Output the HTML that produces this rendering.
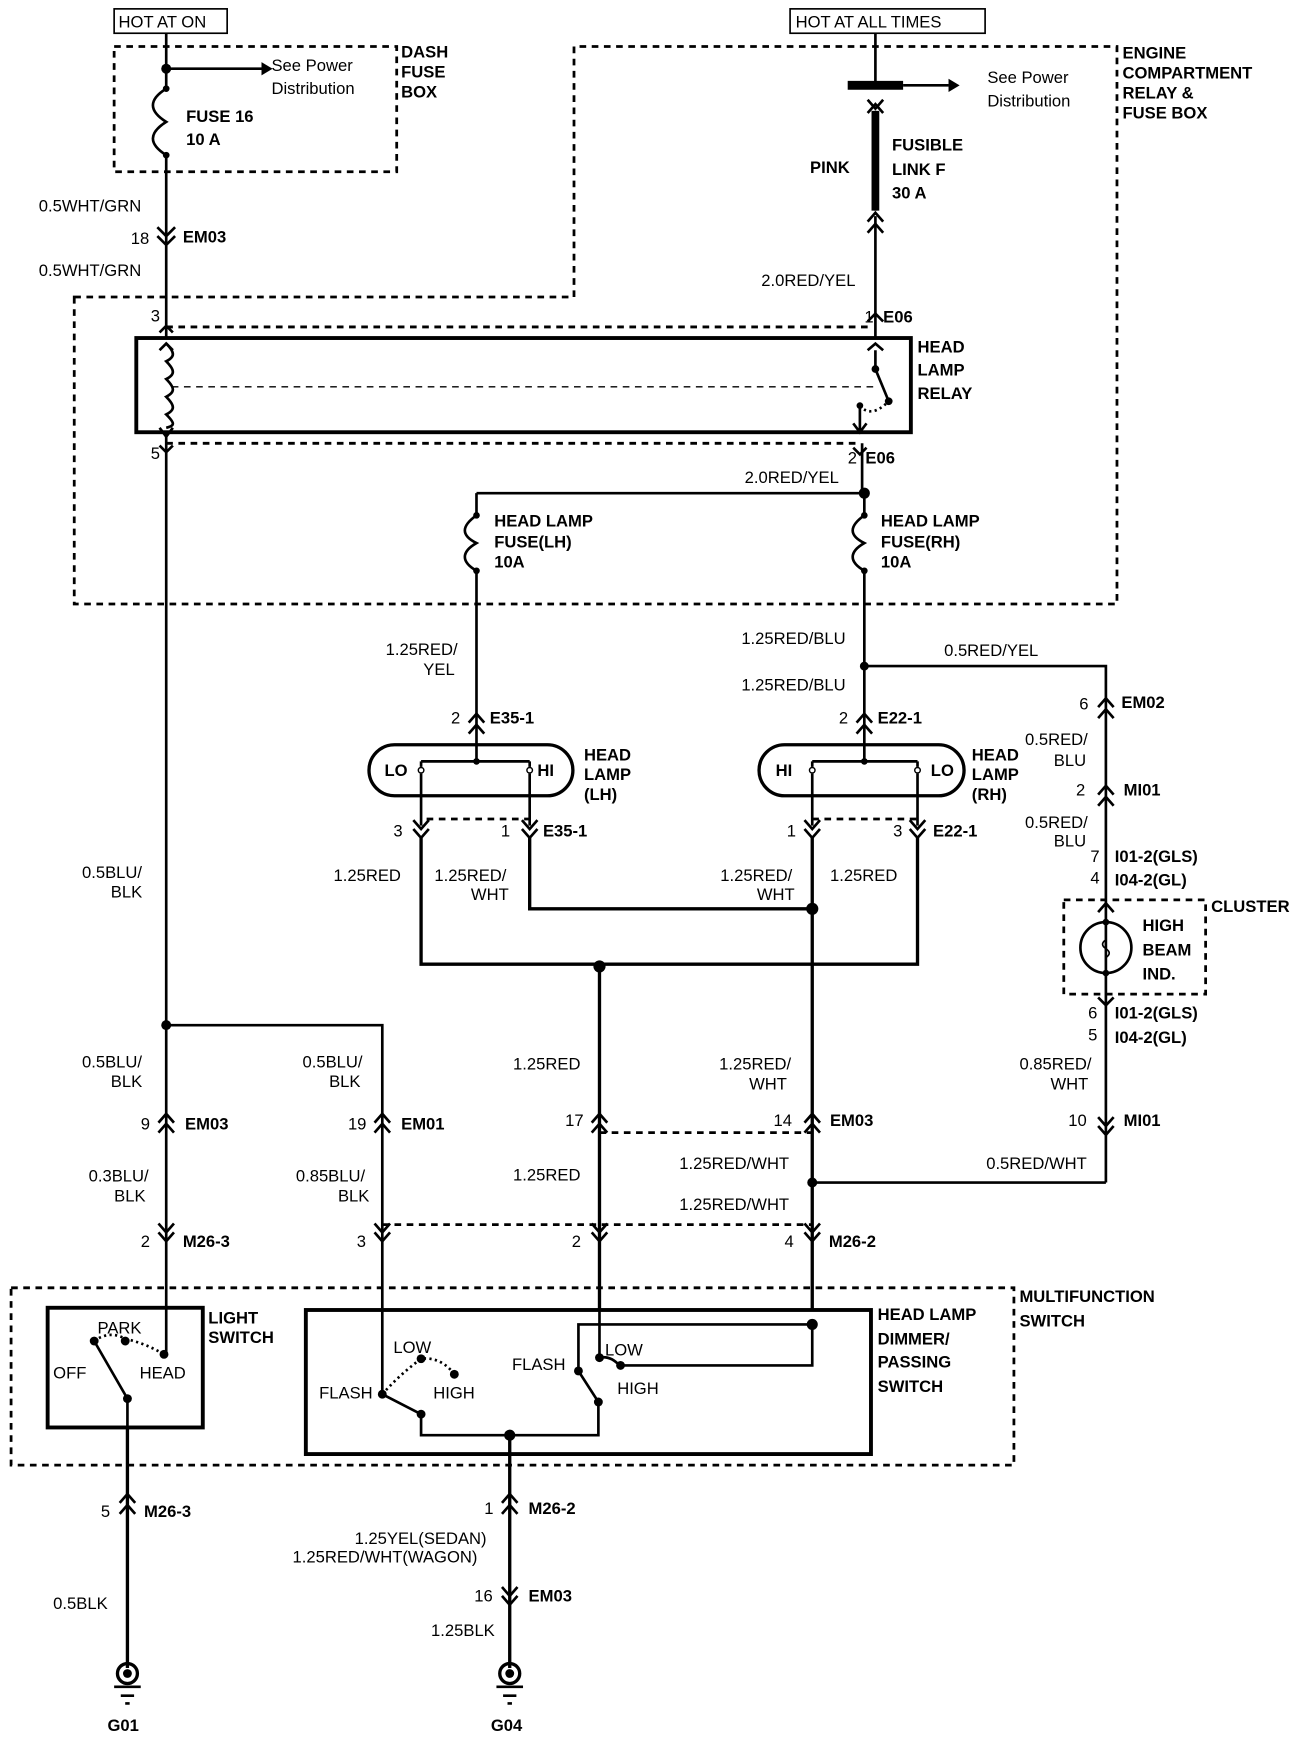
<!DOCTYPE html>
<html><head><meta charset="utf-8"><style>
html,body{margin:0;padding:0;background:#fff;}
svg{display:block;}
text{font-family:"Liberation Sans",sans-serif;font-size:15px;fill:#000;}
.b{font-weight:bold;}
</style></head><body>
<svg width="1312" height="1740" viewBox="0 0 1184 1570" preserveAspectRatio="none" xmlns="http://www.w3.org/2000/svg">
<g fill="none" stroke="#000" stroke-width="2.4">
<!-- header boxes -->
<rect x="103" y="8" width="102" height="22" stroke-width="1.5"/>
<rect x="713" y="8" width="176" height="22" stroke-width="1.5"/>
<!-- dashed boxes -->
<g stroke-dasharray="6,5" stroke-width="2.5">
<path d="M103 42 H358 V155 H103 Z"/>
<path d="M67 268 H518 V42 H1008 V545 H67 Z"/>
<path d="M150 295 H785 M150 400 H775"/>
<path d="M385 739 H478 M733 739 H828"/>
<path d="M541 1022 H733 M345 1105 H733"/>
<path d="M960 812 H1088 V897 H960 Z"/>
<path d="M10 1162 H915 V1322 H10 Z"/>
<path d="M155 349 H790" stroke-width="1.2"/>
</g>
<!-- left column -->
<path d="M150 30 V80 M150 140 V305 M150 390 V1182"/>
<path d="M150 62 H236" />
<path d="M150 80 c-16 10 -16 20 0 30 c-16 10 -16 20 0 30"/>
<path d="M142 205 L150 213 L158 205 M142 213 L150 221 L158 213"/>
<!-- relay -->
<rect x="123" y="305" width="699" height="85" stroke-width="3.5"/>
<path d="M150 310 c8 8 8 12 0 16 c8 8 8 12 0 16 c8 8 8 12 0 16 c8 8 8 12 0 16 c8 8 8 10 0 12"/>
<path d="M144 300 L150 294 L156 300 M144 386 L150 394 L156 386 M144 402 L150 408 L156 402 M144 316 L150 310 L156 316"/>
<!-- right supply -->
<path d="M790 30 V80 M790 100 V190 M790 195 V305"/>
<path d="M765 77 H815" stroke-width="8"/>
<path d="M815 77 H856"/>
<path d="M790 100 V190" stroke-width="7"/>
<path d="M783 90 L790 98 L797 90 M783 102 L790 94 L797 102 M783 200 L790 192 L797 200 M783 210 L790 202 L797 210 M783 290 L790 283 L797 290 M783 316 L790 310 L797 316"/>
<path d="M790 316 V333 L802 362"/>
<path d="M776 366 V390 M770 382 L776 390 L782 382 M770 404 L776 410 L782 404"/>
<path d="M776 366 q10 12 26 -4" stroke-dasharray="2,3"/>
<path d="M778 400 V445 M430 445 H780 M430 445 V465 M780 445 V465"/>
<path d="M430 465 c-14 10 -14 18 0 25 c-14 8 -14 17 0 25 V685"/>
<path d="M780 465 c-14 10 -14 18 0 25 c-14 8 -14 17 0 25 V685"/>
<path d="M780 601 H998 V1067 M733 1067 H998"/>
<path d="M423 652 L430 644 L437 652 M423 662 L430 654 L437 662 M773 652 L780 644 L787 652 M773 662 L780 654 L787 662"/>
<path d="M991 638 L998 630 L1005 638 M991 648 L998 640 L1005 648 M991 717 L998 709 L1005 717 M991 727 L998 719 L1005 727 M991 823 L998 815 L1005 823 M991 900 L998 907 L1005 900 M991 1008 L998 1016 L1005 1008 M991 1016 L998 1024 L1005 1016"/>
<circle cx="998" cy="855" r="23"/>
<path d="M998 832 V878 M998 848 q-6 4 0 8 q6 4 0 8" stroke-width="1.5"/>
<!-- headlamps -->
<rect x="333" y="672" width="184" height="46" rx="23" stroke-width="3"/>
<rect x="685" y="672" width="185" height="46" rx="23" stroke-width="3"/>
<path d="M380 687 H478 M380 687 V692 M478 687 V692 M380 698 V745 M478 698 V745"/>
<path d="M733 687 H828 M733 687 V692 M828 687 V692 M733 698 V745 M828 698 V745"/>
<path d="M373 740 L380 748 L387 740 M373 748 L380 756 L387 748 M471 740 L478 748 L485 740 M471 748 L478 756 L485 748 M726 740 L733 748 L740 740 M726 748 L733 756 L740 748 M821 740 L828 748 L835 740 M821 748 L828 756 L835 748"/>
<path d="M380 756 V870 H828 V756 M478 756 V820 H733 M733 756 V1182 M541 870 V1182" stroke-width="3"/>
<path d="M150 925 H345 V1182"/>
<!-- row connectors -->
<path d="M143 1013 L150 1005 L157 1013 M143 1022 L150 1014 L157 1022 M338 1013 L345 1005 L352 1013 M338 1022 L345 1014 L352 1022 M534 1013 L541 1005 L548 1013 M534 1022 L541 1014 L548 1022 M726 1013 L733 1005 L740 1013 M726 1022 L733 1014 L740 1022"/>
<path d="M143 1104 L150 1112 L157 1104 M143 1112 L150 1120 L157 1112 M338 1104 L345 1112 L352 1104 M338 1112 L345 1120 L352 1112 M534 1104 L541 1112 L548 1104 M534 1112 L541 1120 L548 1112 M726 1104 L733 1112 L740 1104 M726 1112 L733 1120 L740 1112"/>
<!-- switches -->
<rect x="43" y="1180" width="140" height="108" stroke-width="3.5"/>
<rect x="276" y="1182" width="510" height="130" stroke-width="3.5"/>
<path d="M150 1182 V1222 M85 1210 L115 1262 V1505" />
<path d="M115 1288 V1505" stroke-width="3"/>
<path d="M85 1210 q14 -10 28 -2 q18 4 35 14" stroke-dasharray="2,3"/>
<path d="M345 1182 V1258 L380 1276 V1295 H540 V1265 L522 1237 V1195 H733 V1232 H560"/>
<path d="M345 1258 q16 -18 35 -32 q18 -2 30 14" stroke-dasharray="2,3"/>
<path d="M541 1182 V1225 M541 1225 q10 -2 18 7"/>
<path d="M460 1295 V1505" stroke-width="3"/>
<path d="M108 1356 L115 1348 L122 1356 M108 1366 L115 1358 L122 1366 M453 1356 L460 1348 L467 1356 M453 1366 L460 1358 L467 1366 M453 1432 L460 1440 L467 1432 M453 1440 L460 1448 L467 1440"/>
<!-- grounds -->
<circle cx="115" cy="1510" r="9" stroke-width="3"/>
<circle cx="460" cy="1510" r="9" stroke-width="3"/>
<path d="M103 1522 H127 M109 1530 H121 M113 1537 H117 M448 1522 H472 M454 1530 H466 M458 1537 H462"/>
</g>
<!-- arrowheads & dots -->
<g fill="#000">
<polygon points="236,56 246,62 236,68"/>
<polygon points="856,71 866,77 856,83"/>
<circle cx="150" cy="62" r="4.5"/><circle cx="150" cy="80" r="3"/><circle cx="150" cy="140" r="3"/>
<circle cx="790" cy="333" r="3.5"/><circle cx="802" cy="362" r="3.5"/><circle cx="776" cy="366" r="3"/>
<circle cx="780" cy="445" r="5"/><circle cx="430" cy="465" r="3"/><circle cx="430" cy="515" r="3"/><circle cx="780" cy="465" r="3"/><circle cx="780" cy="515" r="3"/>
<circle cx="780" cy="601" r="4"/><circle cx="430" cy="687" r="3"/><circle cx="780" cy="687" r="3"/>
<circle cx="733" cy="820" r="5.5"/><circle cx="541" cy="872" r="5.5"/><circle cx="150" cy="925" r="4.5"/><circle cx="733" cy="1067" r="4.5"/>
<circle cx="998" cy="832" r="3"/><circle cx="998" cy="878" r="3"/>
<circle cx="85" cy="1210" r="4"/><circle cx="113" cy="1210" r="4"/><circle cx="148" cy="1222" r="4"/><circle cx="115" cy="1262" r="4"/>
<circle cx="345" cy="1258" r="4"/><circle cx="380" cy="1226" r="4"/><circle cx="410" cy="1240" r="4"/><circle cx="380" cy="1276" r="4"/>
<circle cx="522" cy="1237" r="4"/><circle cx="541" cy="1225" r="4"/><circle cx="560" cy="1232" r="4"/><circle cx="540" cy="1265" r="4"/>
<circle cx="733" cy="1195" r="5"/><circle cx="460" cy="1295" r="5"/>
<circle cx="115" cy="1510" r="4"/><circle cx="460" cy="1510" r="4"/>
</g>
<g fill="none" stroke="#000" stroke-width="1.3">
<circle cx="380" cy="695" r="2.5"/><circle cx="478" cy="695" r="2.5"/><circle cx="733" cy="695" r="2.5"/><circle cx="828" cy="695" r="2.5"/>
</g>
<!-- labels -->
<text x="107" y="25">HOT AT ON</text>
<text x="718" y="25">HOT AT ALL TIMES</text>
<text x="245" y="64">See Power</text><text x="245" y="85">Distribution</text>
<text x="891" y="75">See Power</text><text x="891" y="96">Distribution</text>
<g class="b">
<text class="b" x="362" y="52">DASH</text><text class="b" x="362" y="70">FUSE</text><text class="b" x="362" y="88">BOX</text>
<text class="b" x="168" y="110">FUSE 16</text><text class="b" x="168" y="131">10 A</text>
<text class="b" x="1013" y="53">ENGINE</text><text class="b" x="1013" y="71">COMPARTMENT</text><text class="b" x="1013" y="89">RELAY &amp;</text><text class="b" x="1013" y="107">FUSE BOX</text>
<text class="b" x="805" y="136">FUSIBLE</text><text class="b" x="805" y="158">LINK F</text><text class="b" x="805" y="179">30 A</text>
<text class="b" x="731" y="156">PINK</text>
<text class="b" x="165" y="219">EM03</text>
<text class="b" x="797" y="291">E06</text><text class="b" x="781" y="418">E06</text>
<text class="b" x="828" y="318">HEAD</text><text class="b" x="828" y="339">LAMP</text><text class="b" x="828" y="360">RELAY</text>
<text class="b" x="446" y="475">HEAD LAMP</text><text class="b" x="446" y="494">FUSE(LH)</text><text class="b" x="446" y="512">10A</text>
<text class="b" x="795" y="475">HEAD LAMP</text><text class="b" x="795" y="494">FUSE(RH)</text><text class="b" x="795" y="512">10A</text>
<text class="b" x="442" y="653">E35-1</text><text class="b" x="792" y="653">E22-1</text><text class="b" x="1012" y="639">EM02</text><text class="b" x="1014" y="718">MI01</text>
<text class="b" x="527" y="686">HEAD</text><text class="b" x="527" y="704">LAMP</text><text class="b" x="527" y="722">(LH)</text>
<text class="b" x="877" y="686">HEAD</text><text class="b" x="877" y="704">LAMP</text><text class="b" x="877" y="722">(RH)</text>
<text class="b" x="490" y="755">E35-1</text><text class="b" x="842" y="755">E22-1</text>
<text class="b" x="1006" y="778">I01-2(GLS)</text><text class="b" x="1006" y="799">I04-2(GL)</text><text class="b" x="1093" y="823">CLUSTER</text>
<text class="b" x="1031" y="840">HIGH</text><text class="b" x="1031" y="862">BEAM</text><text class="b" x="1031" y="884">IND.</text>
<text class="b" x="1006" y="919">I01-2(GLS)</text><text class="b" x="1006" y="941">I04-2(GL)</text>
<text class="b" x="1014" y="1016">MI01</text>
<text class="b" x="167" y="1019">EM03</text><text class="b" x="362" y="1019">EM01</text><text class="b" x="749" y="1016">EM03</text>
<text class="b" x="165" y="1125">M26-3</text><text class="b" x="748" y="1125">M26-2</text>
<text class="b" x="920" y="1175">MULTIFUNCTION</text><text class="b" x="920" y="1197">SWITCH</text>
<text class="b" x="188" y="1194">LIGHT</text><text class="b" x="188" y="1212">SWITCH</text>
<text class="b" x="792" y="1191">HEAD LAMP</text><text class="b" x="792" y="1213">DIMMER/</text><text class="b" x="792" y="1234">PASSING</text><text class="b" x="792" y="1256">SWITCH</text>
<text class="b" x="130" y="1369">M26-3</text><text class="b" x="477" y="1366">M26-2</text><text class="b" x="477" y="1445">EM03</text>
<text class="b" x="97" y="1562">G01</text><text class="b" x="443" y="1562">G04</text>
</g>
<text x="35" y="191">0.5WHT/GRN</text><text x="118" y="220">18</text><text x="35" y="249">0.5WHT/GRN</text>
<text x="136" y="290">3</text><text x="136" y="414">5</text>
<text x="687" y="258">2.0RED/YEL</text><text x="780" y="291">1</text><text x="765" y="418">2</text><text x="672" y="436">2.0RED/YEL</text>
<text x="348" y="591">1.25RED/</text><text x="382" y="609">YEL</text>
<text x="669" y="581">1.25RED/BLU</text><text x="669" y="623">1.25RED/BLU</text><text x="852" y="592">0.5RED/YEL</text>
<text x="407" y="653">2</text><text x="757" y="653">2</text><text x="974" y="640">6</text>
<text x="925" y="672">0.5RED/</text><text x="951" y="691">BLU</text><text x="971" y="718">2</text>
<text x="925" y="747">0.5RED/</text><text x="951" y="764">BLU</text><text x="984" y="778">7</text><text x="984" y="797">4</text>
<text x="347" y="700" class="b">LO</text><text x="485" y="700" class="b">HI</text><text x="700" y="700" class="b">HI</text><text x="840" y="700" class="b">LO</text>
<text x="355" y="755">3</text><text x="452" y="755">1</text><text x="710" y="755">1</text><text x="806" y="755">3</text>
<text x="301" y="795">1.25RED</text><text x="392" y="795">1.25RED/</text><text x="425" y="812">WHT</text>
<text x="650" y="795">1.25RED/</text><text x="683" y="812">WHT</text><text x="749" y="795">1.25RED</text>
<text x="74" y="792">0.5BLU/</text><text x="100" y="810">BLK</text>
<text x="982" y="919">6</text><text x="982" y="939">5</text><text x="920" y="965">0.85RED/</text><text x="948" y="983">WHT</text><text x="964" y="1016">10</text>
<text x="74" y="963">0.5BLU/</text><text x="100" y="981">BLK</text><text x="273" y="963">0.5BLU/</text><text x="297" y="981">BLK</text>
<text x="463" y="965">1.25RED</text><text x="649" y="965">1.25RED/</text><text x="676" y="983">WHT</text>
<text x="127" y="1019">9</text><text x="314" y="1019">19</text><text x="510" y="1016">17</text><text x="698" y="1016">14</text>
<text x="80" y="1066">0.3BLU/</text><text x="103" y="1084">BLK</text><text x="267" y="1066">0.85BLU/</text><text x="305" y="1084">BLK</text>
<text x="463" y="1065">1.25RED</text><text x="613" y="1055">1.25RED/WHT</text><text x="890" y="1055">0.5RED/WHT</text><text x="613" y="1092">1.25RED/WHT</text>
<text x="127" y="1125">2</text><text x="322" y="1125">3</text><text x="516" y="1125">2</text><text x="708" y="1125">4</text>
<text x="88" y="1203">PARK</text><text x="48" y="1244">OFF</text><text x="126" y="1244">HEAD</text>
<text x="355" y="1221">LOW</text><text x="288" y="1262">FLASH</text><text x="391" y="1262">HIGH</text>
<text x="462" y="1236">FLASH</text><text x="546" y="1223">LOW</text><text x="557" y="1258">HIGH</text>
<text x="91" y="1369">5</text><text x="437" y="1366">1</text>
<text x="320" y="1393">1.25YEL(SEDAN)</text><text x="264" y="1410">1.25RED/WHT(WAGON)</text>
<text x="428" y="1445">16</text><text x="48" y="1452">0.5BLK</text><text x="389" y="1476">1.25BLK</text>
</svg>
</body></html>
